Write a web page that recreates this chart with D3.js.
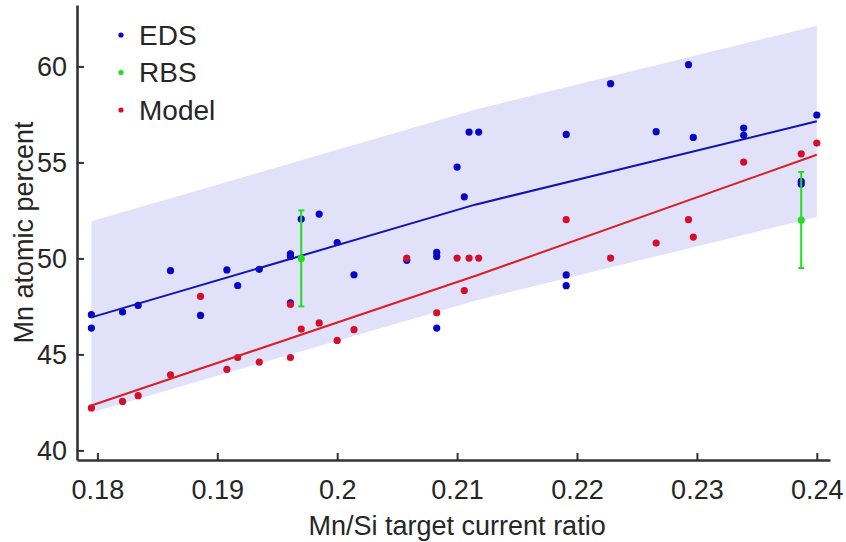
<!DOCTYPE html>
<html>
<head>
<meta charset="utf-8">
<script src="https://cdn.jsdelivr.net/npm/d3@7"></script>
<style>
  body { margin: 0; background: #fff; }
  svg text { font-family: "Liberation Sans", Arial, sans-serif; fill: #262626; }
</style>
</head>
<body>
<div id="chart"></div>
<script>
// EDS measurements (x = Mn/Si target current ratio)
const edsX = [0.1795, 0.1795, 0.1821, 0.1834, 0.1861, 0.1886, 0.1908, 0.1917, 0.1935,
  0.1961, 0.1961, 0.1961, 0.1970, 0.1985, 0.2000, 0.2014, 0.2058,
  0.2083, 0.2083, 0.2083, 0.2100, 0.2106, 0.2110, 0.2118,
  0.2191, 0.2191, 0.2191, 0.2228, 0.2266, 0.2293, 0.2297,
  0.2339, 0.2339, 0.2387, 0.2387, 0.2400]
const edsY = [47.07, 46.37, 47.21, 47.55, 49.36, 47.03, 49.40, 48.59, 49.43,
  50.24, 50.10, 47.68, 52.05, 52.31, 50.83, 49.15, 49.90,
  50.31, 50.10, 46.37, 54.76, 53.21, 56.58, 56.58,
  56.46, 49.14, 48.58, 59.10, 56.60, 60.09, 56.30,
  56.79, 56.41, 54.01, 53.87, 57.47]

// model values
const modelX = [0.1795, 0.1821, 0.1834, 0.1861, 0.1886, 0.1908, 0.1917, 0.1935,
  0.1961, 0.1961, 0.1970, 0.1985, 0.2000, 0.2014, 0.2058, 0.2083,
  0.2100, 0.2106, 0.2110, 0.2118, 0.2191, 0.2228, 0.2266, 0.2293,
  0.2297, 0.2339, 0.2387, 0.2400]
const modelY = [42.21, 42.55, 42.85, 43.94, 48.02, 44.22, 44.84, 44.60,
  44.84, 47.60, 46.32, 46.64, 45.73, 46.29, 50.02, 47.17,
  50.02, 48.33, 50.02, 50.02, 52.02, 50.02, 50.80, 52.02,
  51.11, 55.02, 55.45, 56.01]

// RBS with error bars
const rbsX = [0.1970, 0.2387]
const rbsY = [50.0, 52.0]
const rbsErr = [2.5, 2.5]

// fit lines and band
const edsFitX = [0.1795, 0.2115, 0.2400]
const edsFitY = [46.93, 52.80, 57.14]
const modelFitX = [0.1795, 0.2118, 0.2400]
const modelFitY = [42.34, 49.15, 55.40]
const bandX = [0.1795, 0.2115, 0.2400]
const bandUpper = [51.93, 57.75, 62.12]
const bandLower = [41.98, 47.80, 52.16]

// axes
const xTicks = [0.18, 0.19, 0.2, 0.21, 0.22, 0.23, 0.24]
const yTicks = [40, 45, 50, 55, 60]
const xLim = [0.1783, 0.2411]
const yLim = [39.5, 63.2]

const legendItems = [
  { label: 'EDS', color: '#0505c8' },
  { label: 'RBS', color: '#22dd22' },
  { label: 'Model', color: '#d2102c' }
]

let dimensions = {
  width: 846,
  height: 542,
  margin: { top: 5, bottom: 82, left: 77, right: 16 }
}
dimensions.ctrWidth = dimensions.width - dimensions.margin.left - dimensions.margin.right
dimensions.ctrHeight = dimensions.height - dimensions.margin.top - dimensions.margin.bottom

const svg = d3.select('#chart')
  .append('svg')
  .attr('width', dimensions.width)
  .attr('height', dimensions.height)

const ctr = svg.append('g')
  .attr('transform', `translate(${dimensions.margin.left}, ${dimensions.margin.top})`)

const xScale = d3.scaleLinear().domain(xLim).range([0, dimensions.ctrWidth])
const yScale = d3.scaleLinear().domain(yLim).range([dimensions.ctrHeight, 0])

// shaded band
const band = bandX.map((x, i) => ({ x, lo: bandLower[i], hi: bandUpper[i] }))
ctr.append('path')
  .datum(band)
  .attr('fill', '#e1e1fa')
  .attr('d', d3.area()
    .x(d => xScale(d.x))
    .y0(d => yScale(d.lo))
    .y1(d => yScale(d.hi)))

// points
const r = 3.6
ctr.append('g').selectAll('circle')
  .data(edsX.map((x, i) => [x, edsY[i]]))
  .join('circle')
  .attr('cx', d => xScale(d[0]))
  .attr('cy', d => yScale(d[1]))
  .attr('r', r)
  .attr('fill', legendItems[0].color)

ctr.append('g').selectAll('circle')
  .data(modelX.map((x, i) => [x, modelY[i]]))
  .join('circle')
  .attr('cx', d => xScale(d[0]))
  .attr('cy', d => yScale(d[1]))
  .attr('r', r)
  .attr('fill', legendItems[2].color)

// fit lines
const line = d3.line().x(d => xScale(d[0])).y(d => yScale(d[1]))
ctr.append('path')
  .datum(edsFitX.map((x, i) => [x, edsFitY[i]]))
  .attr('fill', 'none')
  .attr('stroke', '#1212b4')
  .attr('stroke-width', 2)
  .attr('d', line)
ctr.append('path')
  .datum(modelFitX.map((x, i) => [x, modelFitY[i]]))
  .attr('fill', 'none')
  .attr('stroke', '#dc1e24')
  .attr('stroke-width', 2)
  .attr('d', line)

// RBS error bars
const rbs = rbsX.map((x, i) => ({ x, y: rbsY[i], e: rbsErr[i] }))
const eb = ctr.append('g').selectAll('g')
  .data(rbs)
  .join('g')
  .attr('stroke', '#22dd22')
  .attr('stroke-width', 2)
eb.append('line')
  .attr('x1', d => xScale(d.x)).attr('x2', d => xScale(d.x))
  .attr('y1', d => yScale(d.y - d.e)).attr('y2', d => yScale(d.y + d.e))
eb.append('line')
  .attr('x1', d => xScale(d.x) - 3).attr('x2', d => xScale(d.x) + 3)
  .attr('y1', d => yScale(d.y + d.e)).attr('y2', d => yScale(d.y + d.e))
eb.append('line')
  .attr('x1', d => xScale(d.x) - 3).attr('x2', d => xScale(d.x) + 3)
  .attr('y1', d => yScale(d.y - d.e)).attr('y2', d => yScale(d.y - d.e))
eb.append('circle')
  .attr('cx', d => xScale(d.x))
  .attr('cy', d => yScale(d.y))
  .attr('r', r)
  .attr('stroke', 'none')
  .attr('fill', '#22dd22')

// axes
const xAxis = d3.axisBottom(xScale)
  .tickValues(xTicks)
  .tickFormat(d => String(d))
  .tickSizeInner(-7)
  .tickSizeOuter(0)
  .tickPadding(20)
const yAxis = d3.axisLeft(yScale)
  .tickValues(yTicks)
  .tickSizeInner(-7)
  .tickSizeOuter(0)
  .tickPadding(10)

const xAxisGroup = ctr.append('g')
  .attr('transform', `translate(0, ${dimensions.ctrHeight})`)
  .call(xAxis)
const yAxisGroup = ctr.append('g')
  .call(yAxis)

for (const g of [xAxisGroup, yAxisGroup]) {
  g.select('.domain').attr('stroke', '#333').attr('stroke-width', 2.6)
  g.selectAll('.tick line').attr('stroke', '#333').attr('stroke-width', 2)
  g.selectAll('.tick text')
    .attr('font-size', 27)
    .attr('font-family', '"Liberation Sans", Arial, sans-serif')
    .attr('fill', '#262626')
}

// axis labels
svg.append('text')
  .attr('x', dimensions.margin.left + xScale(0.21))
  .attr('y', 535)
  .attr('text-anchor', 'middle')
  .attr('font-size', 27)
  .text('Mn/Si target current ratio')

svg.append('text')
  .attr('transform', `translate(33, ${dimensions.margin.top + dimensions.ctrHeight / 2}) rotate(-90)`)
  .attr('text-anchor', 'middle')
  .attr('font-size', 27)
  .text('Mn atomic percent')

// legend
const legend = svg.append('g')
  .attr('transform', 'translate(121, 35)')
const items = legend.selectAll('g')
  .data(legendItems)
  .join('g')
  .attr('transform', (d, i) => `translate(0, ${i * 37.5})`)
items.append('circle')
  .attr('r', 2.6)
  .attr('fill', d => d.color)
items.append('text')
  .attr('x', 18)
  .attr('dy', '0.35em')
  .attr('font-size', 28)
  .text(d => d.label)
</script>
</body>
</html>
